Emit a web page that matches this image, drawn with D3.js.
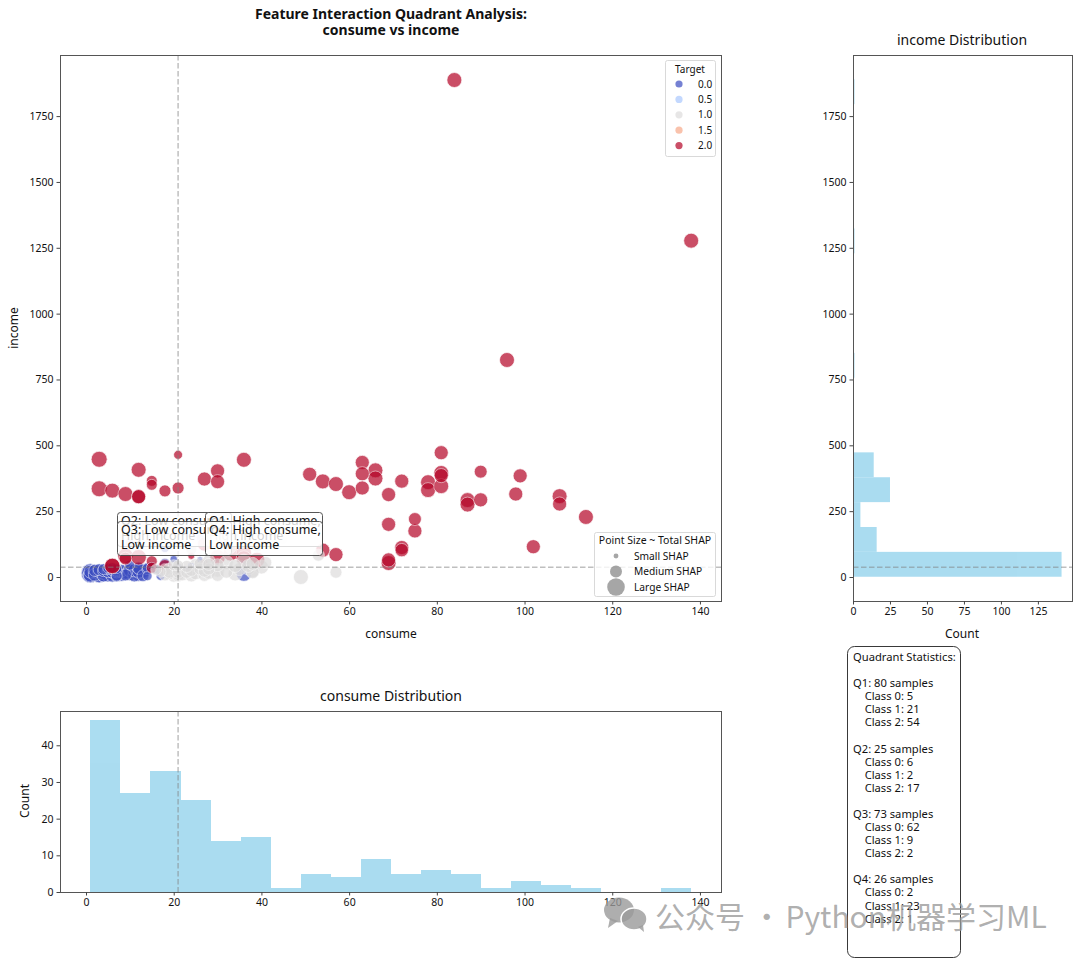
<!DOCTYPE html>
<html>
<head>
<meta charset="utf-8">
<script src="https://cdn.jsdelivr.net/npm/d3@7"></script>
<style>
  html, body { margin: 0; padding: 0; background: #fff; }
  svg { display: block; font-family: "Noto Sans", sans-serif; }
  .tick text { font-size: 10.5px; fill: #111; font-family: "Noto Sans", sans-serif; }
  .tick line { stroke: #444; }
</style>
</head>
<body>
<svg id="chart" width="1080" height="959"></svg>
<script>
// Class 0 samples
const consume0 = [1,1,1,1,1,1,1,2,2,2,2,3,3,3,3,3,4,4,4,4,5,5,5,5,5,6,6,6,6,7,7,7,7,7,7,7,7,7,7,4,5,6,
  10,10,12,8,8,9,9,10,10,10,11,11,12,12,12,13,13,14,14,14,
  18,20,18,15,16,17,24,26,26,21,36,36,23];
const income0 = [15,14,18,8,12,20,6,22,15,9,25,12,18,28,7,22,10,16,24,6,14,20,8,30,11,18,5,26,12,9,15,22,32,6,13,19,27,11,4,30,34,36,
  130,45,35,12,24,8,18,28,14,24,6,25,10,32,20,5,22,30,4,35,
  110,68,50,42,30,4,42,65,150,38,50,12,30];
const shap0 = [.9,.81,.72,.5,.81,.42,.55,.5,.72,.42,.36,.7,.5,.36,.6,.42,.55,.42,.36,.42,.6,.36,.5,.3,.55,.36,.42,.3,.5,.36,.5,.3,.25,.42,.5,.36,.3,.42,.3,.3,.25,.25,
  .2,.25,.36,.6,.42,.36,.5,.42,.55,.42,.42,.42,.5,.36,.42,.36,.49,.3,.22,.25,
  .2,.14,.3,.2,.22,.2,.11,.1,.15,.12,.12,.56,.1];

// Class 1 samples
const consume1 = [15,20,19,20,18,17,19,20,18,16,19,
  21,21,21,21,21,22,23,24,24,25,26,27,27,28,28,24,23,25,26,27,28,28,
  30,30,32,34,35,33,30,32,34,38,38,37,36,39,40,37,36,38,41,
  45,49,53,57];
const income1 = [120,45,12,22,8,20,30,5,25,28,18,
  6,30,12,44,18,10,18,6,25,14,30,8,22,16,30,105,40,45,50,42,48,60,
  8,26,20,12,30,110,45,55,42,24,18,34,130,115,38,42,60,50,55,
  140,0,83,18];
const shap1 = [.15,.3,.36,.42,.36,.3,.36,.42,.36,.3,.36,
  .42,.36,.42,.3,.36,.42,.36,.42,.36,.42,.36,.42,.36,.42,.36,.3,.36,.42,.36,.42,.36,.42,
  .42,.5,.42,.5,.42,.3,.42,.5,.42,.5,.42,.5,.3,.3,.5,.42,.5,.42,.36,
  .2,.56,.36,.36];

// Class 2 samples
const consume2 = [84,138,96,3,3,6,9,12,12,12,15,15,18,21,21,27,30,30,36,51,54,57,60,63,63,63,66,66,69,69,69,69,
  72,72,72,75,75,78,78,81,81,81,81,87,87,90,90,98,99,102,108,108,114,54,57,
  9,12,6,6,18,9,15,18,15,21,24,27,27,30,30,33,36,36,39];
const income2 = [1887,1277,824,447,335,328,315,407,305,305,365,350,327,464,338,372,403,362,445,390,363,353,322,435,392,338,405,374,313,200,65,53,
  364,112,102,220,175,360,330,472,395,385,345,292,275,400,293,315,384,115,307,277,228,102,85,
  80,75,42,42,42,70,60,30,35,20,80,55,125,75,140,90,90,70,65];
const shap2 = [.56,.56,.56,.64,.64,.56,.56,.56,.5,.5,.3,.3,.36,.2,.36,.5,.5,.5,.56,.5,.56,.56,.56,.5,.5,.5,.56,.56,.5,.5,.5,.56,
  .5,.5,.45,.42,.5,.56,.56,.5,.56,.5,.56,.56,.56,.42,.5,.5,.5,.5,.56,.5,.56,.5,.5,
  .6,.6,.6,.6,.4,.4,.3,.3,.3,.2,.12,.1,.5,.6,.5,.6,.6,.6,.6];

// Histogram counts with their bin starts and widths
const consumeCounts = [47,27,33,25,14,15,1,5,4,9,5,6,5,1,3,2,1,0,0,1];
const consumeBinStart = 1, consumeBinWidth = 6.85;
const incomeCounts = [141,16,5,25,14,0,0,0,1,0,0,0,0,1,0,0,0,0,0,1];
const incomeBinStart = 1, incomeBinWidth = 94.45;

const medianConsume = 21, medianIncome = 37;

const xTicks = [0,20,40,60,80,100,120,140];
const yTicks = [0,250,500,750,1000,1250,1500,1750];
const bottomCountTicks = [0,10,20,30,40];
const rightCountTicks = [0,25,50,75,100,125];

const targetLegend = [0.0,0.5,1.0,1.5,2.0];
const sizeLegendLabels = ["Small SHAP","Medium SHAP","Large SHAP"];
const sizeLegendValues = [0.06,0.36,0.78];

const quadrantNotes = [
  ["Q2: Low consume,","High income",117,512,231],
  ["Q1: High consume,","High income",205,512,322],
  ["Q3: Low consume,","Low income",117,521,231],
  ["Q4: High consume,","Low income",205,521,322]
];
const quadrantStats = [
  ["Q1",80,[5,21,54]],
  ["Q2",25,[6,2,17]],
  ["Q3",73,[62,9,2]],
  ["Q4",26,[2,23,1]]
];

const svg = d3.select("#chart");

// Panel rectangles in page pixels
const main = {l:60,r:721,t:55,b:601};
const bottom = {l:60,r:721,t:711,b:892};
const right = {l:853,r:1072,t:55,b:601};

const x = d3.scaleLinear().domain([-5.93,144.8]).range([main.l,main.r]);
const y = d3.scaleLinear().domain([-91.1,1982]).range([main.b,main.t]);
const yCount = d3.scaleLinear().domain([0,49.35]).range([bottom.b,bottom.t]);
const xCount = d3.scaleLinear().domain([0,148.05]).range([right.l,right.r]);
const radius = d3.scaleSqrt().domain([0,1]).range([0,10]);
const color = d3.scaleLinear().domain([0,0.5,1,1.5,2])
  .range(["#3b4cc0","#aac7fd","#dddcdc","#f7a889","#b40426"]);

function clipFor(id, p) {
  svg.append("clipPath").attr("id",id).append("rect")
    .attr("x",p.l).attr("y",p.t).attr("width",p.r-p.l).attr("height",p.b-p.t);
}
clipFor("clip-main",main); clipFor("clip-bottom",bottom); clipFor("clip-right",right);

function frame(p) {
  svg.append("rect").attr("x",p.l+.5).attr("y",p.t+.5).attr("width",p.r-p.l).attr("height",p.b-p.t)
    .attr("fill","none").attr("stroke","#555").attr("stroke-width",1);
}
function drawAxes(p, xs, ys, xt, yt) {
  svg.append("g").attr("transform",`translate(0,${p.b})`)
    .call(d3.axisBottom(xs).tickValues(xt).tickFormat(d3.format("d")).tickSize(3.5).tickSizeOuter(0).tickPadding(3))
    .call(g=>g.select(".domain").remove());
  svg.append("g").attr("transform",`translate(${p.l},0)`)
    .call(d3.axisLeft(ys).tickValues(yt).tickFormat(d3.format("d")).tickSize(3.5).tickSizeOuter(0).tickPadding(3))
    .call(g=>g.select(".domain").remove());
}
function label(txt,px,py,size,opts={}) {
  const t = svg.append("text").attr("x",px).attr("y",py).attr("font-size",size)
    .attr("fill",opts.fill||"#111").attr("text-anchor",opts.anchor||"middle")
    .attr("font-weight",opts.weight||"normal").text(txt);
  if (opts.rotate) t.attr("transform",`rotate(-90 ${px} ${py})`);
  return t;
}
function medianLine(x1,y1,x2,y2,clip) {
  svg.append("line").attr("x1",x1).attr("y1",y1).attr("x2",x2).attr("y2",y2)
    .attr("stroke","#808080").attr("stroke-opacity",.5).attr("stroke-width",1.5)
    .attr("stroke-dasharray","5.5,2.5").attr("clip-path",`url(#${clip})`);
}

// Scatter: within a class the bigger markers go first so the small ones stay visible
const points = [];
[[consume0,income0,shap0,0],[consume1,income1,shap1,1],[consume2,income2,shap2,2]].forEach(([cs,is,ss,k])=>{
  cs.forEach((c,i)=>points.push({c,inc:is[i],s:ss[i],k}));
});
const drawOrder = k => [0,2,1][k];
points.sort((a,b)=> d3.ascending(drawOrder(a.k),drawOrder(b.k)) || d3.descending(a.s,b.s));

svg.append("g").attr("clip-path","url(#clip-main)").selectAll("circle").data(points).join("circle")
  .attr("cx",d=>x(d.c)).attr("cy",d=>y(d.inc)).attr("r",d=>radius(d.s))
  .attr("fill",d=>color(d.k)).attr("stroke","#fff").attr("stroke-width",.7).attr("opacity",.7);

medianLine(x(medianConsume),main.t,x(medianConsume),main.b,"clip-main");
medianLine(main.l,y(medianIncome),main.r,y(medianIncome),"clip-main");

// Quadrant notes
quadrantNotes.forEach(([a,b,l,t,r])=>{
  svg.append("rect").attr("x",l+.5).attr("y",t+.5).attr("width",r-l).attr("height",34).attr("rx",3)
    .attr("fill","#fff").attr("fill-opacity",.8).attr("stroke","#444").attr("stroke-width",.9);
  label(a,l+4,t+13,12.5,{anchor:"start"});
  label(b,l+4,t+28,12.5,{anchor:"start"});
});

frame(main);
drawAxes(main,x,y,xTicks,yTicks);
label("consume",391,638,12);
label("income",18,328,12,{rotate:true});
label("Feature Interaction Quadrant Analysis:",391,19,14,{weight:"bold"});
label("consume vs income",391,35,14,{weight:"bold"});

// Target legend
function legendBox(l,t,r,b) {
  svg.append("rect").attr("x",l+.5).attr("y",t+.5).attr("width",r-l).attr("height",b-t).attr("rx",2)
    .attr("fill","#fff").attr("fill-opacity",.8).attr("stroke","#d5d5d5").attr("stroke-width",.9);
}
legendBox(665,60,715,156);
label("Target",690,72.5,10);
targetLegend.forEach((v,i)=>{
  const py = 84+i*15.4;
  svg.append("circle").attr("cx",679).attr("cy",py).attr("r",3.6).attr("fill",color(v)).attr("opacity",.7);
  label(v.toFixed(1),698,py+3.5,10,{anchor:"start"});
});

// Marker-size legend
legendBox(594,532,715,596);
label("Point Size ~ Total SHAP",655,544,10.5);
sizeLegendLabels.forEach((t,i)=>{
  const py = 556+i*15.5;
  svg.append("circle").attr("cx",616).attr("cy",py).attr("r",radius(sizeLegendValues[i])).attr("fill","#808080").attr("opacity",.7);
  label(t,634,py+3.5,10.2,{anchor:"start"});
});

// Consume histogram, filled as one layer so neighbouring bars show no seam
svg.append("g").attr("opacity",.7).selectAll("rect").data(consumeCounts).join("rect")
  .attr("x",(d,i)=>x(consumeBinStart+i*consumeBinWidth))
  .attr("width",(d,i)=>x(consumeBinStart+(i+1)*consumeBinWidth)-x(consumeBinStart+i*consumeBinWidth))
  .attr("y",d=>yCount(d)).attr("height",d=>bottom.b-yCount(d))
  .attr("fill","#87ceeb").attr("shape-rendering","crispEdges");
medianLine(x(medianConsume),bottom.t,x(medianConsume),bottom.b,"clip-bottom");
frame(bottom);
drawAxes(bottom,x,yCount,xTicks,bottomCountTicks);
label("consume Distribution",391,701,14);
label("Count",29,801,12,{rotate:true});

// Income histogram
svg.append("g").attr("opacity",.7).selectAll("rect").data(incomeCounts).join("rect")
  .attr("x",right.l)
  .attr("width",d=>xCount(d)-right.l)
  .attr("y",(d,i)=>y(incomeBinStart+(i+1)*incomeBinWidth))
  .attr("height",(d,i)=>y(incomeBinStart+i*incomeBinWidth)-y(incomeBinStart+(i+1)*incomeBinWidth))
  .attr("fill","#87ceeb");
medianLine(right.l,y(medianIncome),right.r,y(medianIncome),"clip-right");
frame(right);
drawAxes(right,xCount,y,rightCountTicks,yTicks);
label("income Distribution",962,45,14);
label("Count",962,638,12);

// Quadrant statistics box
svg.append("rect").attr("x",847.5).attr("y",646.5).attr("width",113).attr("height",311).attr("rx",7)
  .attr("fill","#fff").attr("stroke","#222").attr("stroke-width",.9);
const statLines = ["Quadrant Statistics:",""];
quadrantStats.forEach(([q,n,cl])=>{
  statLines.push(`${q}: ${n} samples`);
  cl.forEach((c,i)=>statLines.push(`    Class ${i}: ${c}`));
  statLines.push("");
});
statLines.forEach((t,i)=>{
  if (t) label(t,853,661+i*13.08,11.2,{anchor:"start"}).style("white-space","pre");
});

// Channel mark and name across the lower right corner
const wm = svg.append("g").attr("fill","#9a9a9a").attr("fill-opacity",.8);
wm.append("ellipse").attr("cx",619).attr("cy",910).attr("rx",15).attr("ry",12.5);
wm.append("path").attr("d",d3.line()([[610,918],[608,928],[618,921]]));
wm.append("ellipse").attr("cx",634).attr("cy",919).attr("rx",13).attr("ry",11).attr("stroke","#fff").attr("stroke-width",1.5);
wm.append("path").attr("d",d3.line()([[638,927],[644,932],[643,925]]));
const wmText = svg.append("text").attr("x",655).attr("y",927.5).attr("font-size",30)
  .attr("font-family","'Noto Sans CJK SC', 'Noto Sans', sans-serif")
  .attr("fill","#9a9a9a").attr("fill-opacity",.8);
wmText.append("tspan").text("公众号 ·");
wmText.append("tspan").attr("dx",-3).text(" Python机器学习ML");
</script>
</body>
</html>
